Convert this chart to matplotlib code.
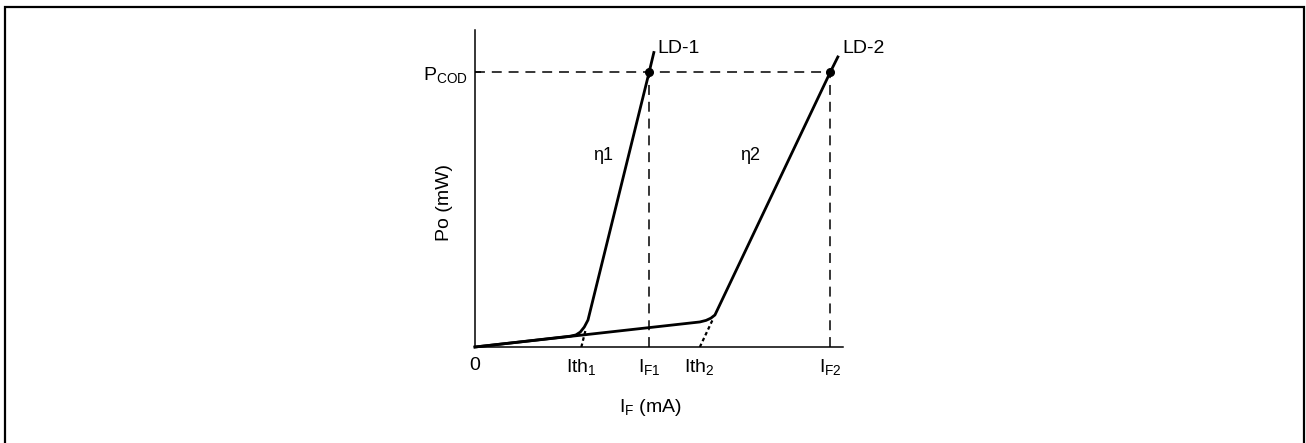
import numpy as np
import matplotlib
matplotlib.use("Agg")
import matplotlib.pyplot as plt
from matplotlib.patches import Rectangle

plt.rcParams['font.family'] = ['Liberation Sans', 'DejaVu Sans']
plt.rcParams['mathtext.fontset'] = 'custom'
plt.rcParams['mathtext.rm'] = 'Liberation Sans'
plt.rcParams['mathtext.it'] = 'Liberation Sans'

# characteristic curves (schematic units: current vs optical power)
ld1_i = [0, 25.8, 27.4, 28.6, 29.7, 30.7, 47.3, 48.6]
ld1_p = [0, 3.4, 3.8, 4.7, 6.3, 8.5, 86.6, 92.9]
ld2_i = [0, 61.1, 62.8, 64.1, 65.2, 96.5, 98.6]
ld2_p = [0, 7.9, 8.4, 9.1, 10.1, 86.6, 91.5]

ith1, ith2 = 28.9, 61.1
if1, if2 = 47.3, 96.5
pcod = 86.6

# extrapolation of the slope down to threshold
ext1_i = [ith1, 30.1]
ext1_p = [0, 5.6]
ext2_i = [ith2, 64.7]
ext2_p = [0, 8.9]

xtick_pos = [0, ith1, if1, ith2, if2]
xtick_lab = [r'$\mathregular{0}$', r'$\mathregular{Ith_1}$', r'$\mathregular{I_{F1}}$',
             r'$\mathregular{Ith_2}$', r'$\mathregular{I_{F2}}$']

fig = plt.figure(figsize=(13.06, 4.43), dpi=100)
ax = fig.add_axes([475/1306, 1-347/443, 368/1306, 317/443])
ax.set_xlim(0, 100)
ax.set_ylim(0, 100)

# dashed guides
dash = (0, (6.5, 4.5))
ax.plot([0, if2], [pcod, pcod], color='black', lw=1.1, ls=dash)
ax.plot([if1, if1], [0, pcod], color='black', lw=1.1, ls=dash)
ax.plot([if2, if2], [0, pcod], color='black', lw=1.1, ls=dash)

ax.plot(ext1_i, ext1_p, color='black', lw=1.6, ls=(0, (1.6, 1.3)))
ax.plot(ext2_i, ext2_p, color='black', lw=1.6, ls=(0, (1.6, 1.3)))

ax.plot(ld1_i, ld1_p, color='black', lw=2.0, solid_joinstyle='round', clip_on=False)
ax.plot(ld2_i, ld2_p, color='black', lw=2.0, solid_joinstyle='round', clip_on=False)
ax.plot([if1, if2], [pcod, pcod], 'o', color='black', ms=5.5)

ax.text(49.5, 94.3, 'LD-1', fontsize=14, va='center', ha='left')
ax.text(99.8, 94.3, 'LD-2', fontsize=14, va='center', ha='left', clip_on=False)
ax.text(32.2, 60.5, 'η1', fontsize=13, va='center', ha='left')
ax.text(72.0, 60.5, 'η2', fontsize=13, va='center', ha='left')

for s in ['top', 'right']:
    ax.spines[s].set_visible(False)
for s in ['left', 'bottom']:
    ax.spines[s].set_linewidth(1.1)

ax.set_xticks(xtick_pos)
ax.set_xticklabels(xtick_lab, fontsize=14)
ax.tick_params(axis='x', length=0, pad=7)
ax.set_yticks([pcod])
ax.set_yticklabels([r'$\mathregular{P_{COD}}$'], fontsize=14)
ax.tick_params(axis='y', direction='in', length=4, width=1.1, pad=5)

ax.text(0.476, -0.19, r'$\mathregular{I_F}$ (mA)', transform=ax.transAxes,
        fontsize=14, ha='center', va='center')
ax.text(-0.082, 0.457, 'Po (mW)', transform=ax.transAxes, fontsize=14,
        ha='center', va='center', rotation=90)

fig.patches.append(Rectangle((5/1306, -0.02), 1299/1306, 1.02-7/443,
                             transform=fig.transFigure, fill=False,
                             edgecolor='black', lw=1.6))

fig.savefig('out.png', dpi=100)
